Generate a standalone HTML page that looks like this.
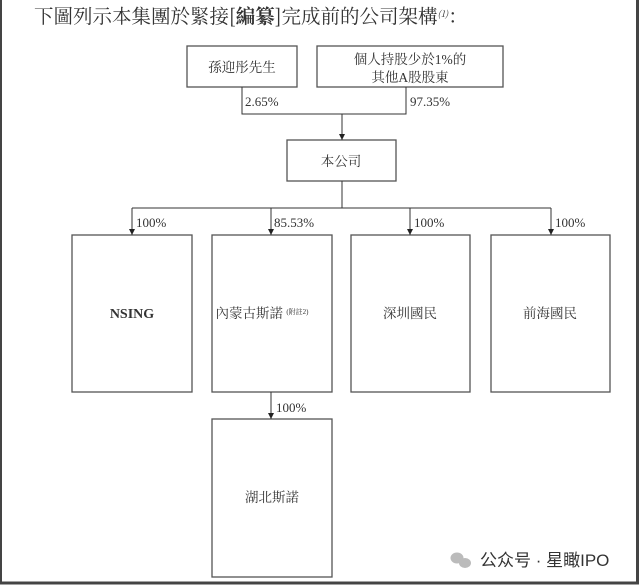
<!DOCTYPE html>
<html><head><meta charset="utf-8"><style>
html,body{margin:0;padding:0;background:#fff;}
svg{display:block;}
text{font-family:"Liberation Serif","Noto Serif CJK SC",serif;fill:#333;}
</style></head><body>
<svg width="640" height="586" viewBox="0 0 640 586" xmlns="http://www.w3.org/2000/svg">
<defs><marker id="a" markerWidth="6" markerHeight="6" refX="6" refY="3" orient="auto" markerUnits="userSpaceOnUse"><path d="M0,0 L6,3 L0,6 z" fill="#222"/></marker></defs>
<rect x="0" y="0" width="640" height="586" fill="#fff"/>
<rect x="0.5" y="-2" width="637" height="585" fill="none" stroke="#444" stroke-width="3"/>
<text x="34" y="23" font-size="19.5" style="font-family:'Noto Serif CJK SC',serif" fill="#333">下圖列示本集團於緊接[<tspan font-weight="bold">編纂</tspan>]完成前的公司架構<tspan font-size="9" font-style="italic" dy="-6">(1)</tspan><tspan dy="6">：</tspan></text>
<g fill="none" stroke="#555" stroke-width="1.3">
<rect x="187" y="46" width="110" height="41"/>
<rect x="317" y="46" width="186" height="41"/>
<rect x="287" y="140" width="109" height="41"/>
<rect x="72" y="235" width="120" height="157"/>
<rect x="212" y="235" width="120" height="157"/>
<rect x="351" y="235" width="119" height="157"/>
<rect x="491" y="235" width="119" height="157"/>
<rect x="212" y="419" width="120" height="158"/>
</g>
<g fill="none" stroke="#333" stroke-width="1">
<polyline points="242,87 242,114 406,114 406,87"/>
<line x1="342" y1="114" x2="342" y2="140" marker-end="url(#a)"/>
<line x1="342" y1="181" x2="342" y2="208"/>
<line x1="132" y1="208" x2="551" y2="208"/>
<line x1="132" y1="208" x2="132" y2="235" marker-end="url(#a)"/>
<line x1="271" y1="208" x2="271" y2="235" marker-end="url(#a)"/>
<line x1="410" y1="208" x2="410" y2="235" marker-end="url(#a)"/>
<line x1="551" y1="208" x2="551" y2="235" marker-end="url(#a)"/>
<line x1="271" y1="392" x2="271" y2="419" marker-end="url(#a)"/>
</g>
<g font-size="13.5" text-anchor="middle">
<text x="242" y="72">孫迎彤先生</text>
<text x="410" y="64">個人持股少於1%的</text>
<text x="410" y="82">其他A股股東</text>
<text x="341" y="166">本公司</text>
<text x="132" y="318" font-weight="bold" font-size="14">NSING</text>
<text x="262" y="318">內蒙古斯諾 <tspan font-size="7" dy="-4">(附註2)</tspan></text>
<text x="410" y="318">深圳國民</text>
<text x="550" y="318">前海國民</text>
<text x="272" y="502">湖北斯諾</text>
</g>
<g font-size="13">
<text x="245" y="106">2.65%</text>
<text x="410" y="106">97.35%</text>
<text x="136" y="227">100%</text>
<text x="274" y="227">85.53%</text>
<text x="414" y="227">100%</text>
<text x="555" y="227">100%</text>
<text x="276" y="412">100%</text>
</g>
<g fill="#bbb">
<ellipse cx="457" cy="558" rx="6.5" ry="5.5"/>
<ellipse cx="465" cy="563" rx="6" ry="5"/>
</g>
<text x="480" y="566" font-size="17" style="font-family:'Liberation Sans','Noto Sans CJK SC',sans-serif" fill="#b5b5b5">公众号 · 星瞰IPO</text>
</svg>
</body></html>
